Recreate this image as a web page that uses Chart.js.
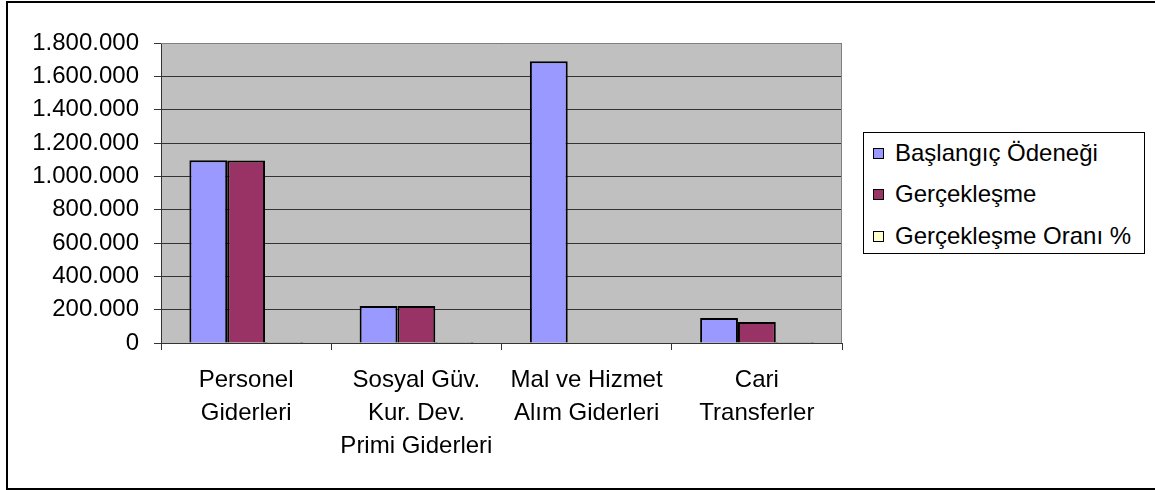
<!DOCTYPE html>
<html>
<head>
<meta charset="utf-8">
<script src="https://cdn.jsdelivr.net/npm/chart.js@4"></script>
<style>
  body { margin: 0; background: #fff; overflow: hidden; width: 1155px; height: 490px; position: relative; font-family: "Liberation Sans", Arial, sans-serif; }
  #frame { position: absolute; left: 6px; top: 1px; width: 1200px; height: 485px; border: 2px solid #000; }
  #chart { position: absolute; left: 0; top: 0; }
  #legend { position: absolute; left: 863px; top: 132px; width: 280px; height: 120px; border: 1px solid #000; background: #fff; }
  .row { position: absolute; left: 9px; height: 30px; display: flex; align-items: center; font-size: 24px; color: #000; white-space: nowrap; }
  .box { width: 9px; height: 9px; border: 1px solid #000; margin-right: 11px; }
</style>
</head>
<body>
<div id="frame"></div>
<canvas id="chart" width="1155" height="490"></canvas>
<div id="legend"></div>
<script>
const categories = [
  ['Personel', 'Giderleri'],
  ['Sosyal Güv.', 'Kur. Dev.', 'Primi Giderleri'],
  ['Mal ve Hizmet', 'Alım Giderleri'],
  ['Cari', 'Transferler']
];
const baslangic = [1096000, 222000, 1690000, 150000];
const gerceklesme = [1095000, 222000, null, 126000];
const oran = [99.9, 100, 0, 84];
const seriesNames = ['Başlangıç Ödeneği', 'Gerçekleşme', 'Gerçekleşme Oranı %'];
const seriesColors = ['#9999FF', '#993366', '#FFFFCC'];
const yTicks = [0, 200000, 400000, 600000, 800000, 1000000, 1200000, 1400000, 1600000, 1800000];

function trNumber(v) {
  return String(v).replace(/\B(?=(\d{3})+(?!\d))/g, '.');
}

const plotBg = {
  id: 'plotBg',
  beforeDraw(chart) {
    const a = chart.chartArea;
    const c = chart.ctx;
    c.save();
    c.fillStyle = '#C0C0C0';
    c.fillRect(a.left, a.top, a.right - a.left, a.bottom - a.top);
    c.restore();
  },
  beforeDatasetsDraw(chart) {
    const a = chart.chartArea;
    const c = chart.ctx;
    c.save();
    c.strokeStyle = '#808080';
    c.lineWidth = 1;
    c.beginPath();
    c.moveTo(a.left, a.top + 0.5);
    c.lineTo(a.right - 0.5, a.top + 0.5);
    c.lineTo(a.right - 0.5, a.bottom);
    c.stroke();
    c.restore();
  }
};

const font = { family: '"Liberation Sans", Arial, sans-serif', size: 24 };

const chart = new Chart(document.getElementById('chart'), {
  type: 'bar',
  data: {
    labels: categories,
    datasets: [
      { label: seriesNames[0], data: baslangic, backgroundColor: seriesColors[0] },
      { label: seriesNames[1], data: gerceklesme, backgroundColor: seriesColors[1] },
      { label: seriesNames[2], data: oran, backgroundColor: seriesColors[2] }
    ]
  },
  options: {
    responsive: false,
    animation: false,
    devicePixelRatio: 1,
    layout: { padding: { left: 0, top: 43, right: 313, bottom: 0 } },
    datasets: {
      bar: { categoryPercentage: 3 / 4.5, barPercentage: 1, borderColor: '#000', borderWidth: 2, borderSkipped: 'start' }
    },
    plugins: {
      legend: { display: false },
      tooltip: { enabled: false }
    },
    scales: {
      x: {
        offset: true,
        grid: { offset: true, drawOnChartArea: false, drawTicks: true, tickLength: 7, color: '#333' },
        border: { display: true, color: '#333', width: 1 },
        ticks: { color: '#000', font: { ...font, lineHeight: 1.38 }, padding: 14, maxRotation: 0, autoSkip: false },
        afterFit(scale) { scale.height = 147; }
      },
      y: {
        min: 0,
        max: 1800000,
        afterBuildTicks(scale) { scale.ticks = yTicks.map(v => ({ value: v })); },
        grid: { color: '#333', tickLength: 7, drawTicks: true },
        border: { display: true, color: '#333', width: 1 },
        ticks: { color: '#000', font: font, padding: 15, callback: v => trNumber(v) },
        afterFit(scale) { scale.width = 161; }
      }
    }
  },
  plugins: [plotBg]
});

// legend built from the chart's datasets
const legend = document.getElementById('legend');
const rowTops = [5, 46, 88];
chart.data.datasets.forEach((ds, i) => {
  const row = document.createElement('div');
  row.className = 'row';
  row.style.top = rowTops[i] + 'px';
  const box = document.createElement('span');
  box.className = 'box';
  box.style.background = ds.backgroundColor;
  row.appendChild(box);
  row.appendChild(document.createTextNode(ds.label));
  legend.appendChild(row);
});
</script>
</body>
</html>
